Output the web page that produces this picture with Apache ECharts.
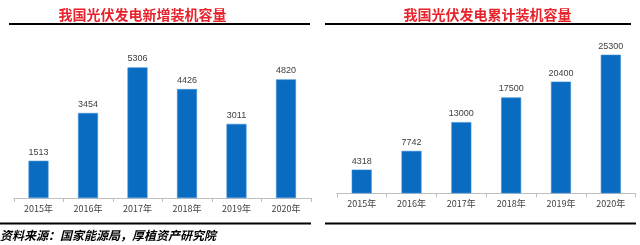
<!DOCTYPE html>
<html><head><meta charset="utf-8">
<script src="https://cdn.jsdelivr.net/npm/echarts@6/dist/echarts.min.js"></script>
<style>html,body{margin:0;padding:0;background:#fff}#c{width:640px;height:245px}</style>
</head><body><div id="c"></div>
<script>
var categories = ['2015年','2016年','2017年','2018年','2019年','2020年'];
var newCapacity = [1513, 3454, 5306, 4426, 3011, 4820];
var cumCapacity = [4318, 7742, 13000, 17500, 20400, 25300];
var titleLeft = '我国光伏发电新增装机容量';
var titleRight = '我国光伏发电累计装机容量';
var sourceText = '资料来源：国家能源局，厚植资产研究院';

var chart = echarts.init(document.getElementById('c'));
var barColor = '#0a6cc0';
var axisCommon = {
  type: 'category', data: categories,
  axisLine: {lineStyle: {color: '#bfbfbf'}},
  axisTick: {show: true, alignWithLabel: false, length: 4, lineStyle: {color: '#bfbfbf'}},
  axisLabel: {color: '#404040', fontSize: 9, fontFamily: 'Noto Sans CJK SC', margin: 6}
};
var labelCommon = {show: true, position: 'top', distance: 4, color: '#404040', fontSize: 9, fontFamily: 'Liberation Sans'};
chart.setOption({
  animation: false,
  title: [
    {text: titleLeft, left: 137.5, top: 3, textAlign: 'center',
     textStyle: {color: '#e8222a', fontSize: 14, fontWeight: 'bold', fontFamily: 'Noto Sans CJK SC'}},
    {text: titleRight, left: 482.5, top: 3, textAlign: 'center',
     textStyle: {color: '#e8222a', fontSize: 14, fontWeight: 'bold', fontFamily: 'Noto Sans CJK SC'}}
  ],
  grid: [
    {left: 13.75, right: 329.25, top: 50.3, bottom: 47},
    {left: 336.8, right: 4.3, top: 29, bottom: 51.7}
  ],
  xAxis: [
    Object.assign({gridIndex: 0}, axisCommon),
    Object.assign({gridIndex: 1}, axisCommon)
  ],
  yAxis: [
    {gridIndex: 0, type: 'value', min: 0, max: 6000, show: false},
    {gridIndex: 1, type: 'value', min: 0, max: 30000, show: false}
  ],
  series: [
    {type: 'bar', xAxisIndex: 0, yAxisIndex: 0, data: newCapacity, barWidth: 20,
     itemStyle: {color: barColor, borderColor: '#3d8fd6', borderWidth: 0.6}, label: labelCommon},
    {type: 'bar', xAxisIndex: 1, yAxisIndex: 1, data: cumCapacity, barWidth: 20,
     itemStyle: {color: barColor, borderColor: '#3d8fd6', borderWidth: 0.6}, label: labelCommon}
  ],
  graphic: [
    {type: 'line', shape: {x1: 9, y1: 24, x2: 310, y2: 24}, style: {stroke: '#000', lineWidth: 2}},
    {type: 'line', shape: {x1: 325, y1: 24, x2: 631, y2: 24}, style: {stroke: '#000', lineWidth: 2}},
    {type: 'line', shape: {x1: 0, y1: 223.5, x2: 311, y2: 223.5}, style: {stroke: '#000', lineWidth: 2}},
    {type: 'line', shape: {x1: 325, y1: 223.5, x2: 636, y2: 223.5}, style: {stroke: '#000', lineWidth: 2}},
    {type: 'text', left: 0, top: 229, style: {text: sourceText, fill: '#000', fontSize: 12, fontWeight: 'bold', fontStyle: 'italic', fontFamily: 'Noto Sans CJK SC'}}
  ]
});
</script></body></html>
